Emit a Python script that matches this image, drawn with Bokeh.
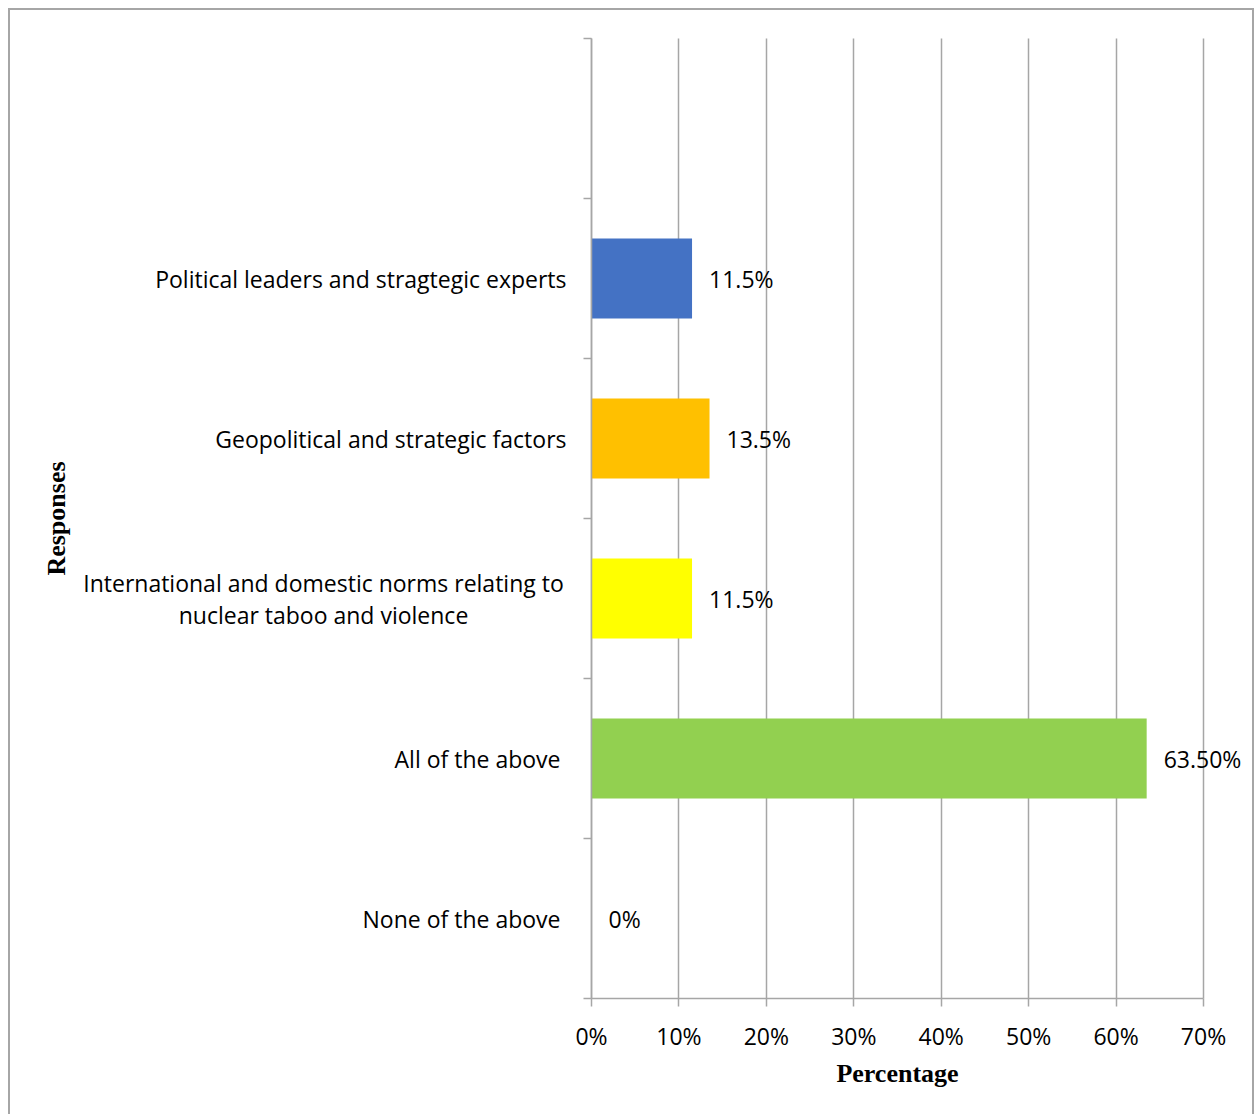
from bokeh.plotting import figure
from bokeh.models import ColumnDataSource, FixedTicker, Range1d
from bokeh.core.properties import value
from bokeh.embed import file_html
from bokeh.resources import INLINE

# ---- data ----
categories = [
    "None of the above ",
    "All of the above ",
    "International and domestic norms relating to\nnuclear taboo and violence",
    "Geopolitical and strategic factors",
    "Political leaders and stragtegic experts",
]
values = [0.0, 63.5, 11.5, 13.5, 11.5]
value_labels = ["0%", "63.50%", "11.5%", "13.5%", "11.5%"]
colors = ["#FFFFFF", "#92D050", "#FFFF00", "#FFC000", "#4472C4"]
x_ticks = [0, 10, 20, 30, 40, 50, 60, 70]
x_tick_labels = ["0%", "10%", "20%", "30%", "40%", "50%", "60%", "70%"]
n_slots = 6  # includes one empty slot at the top

FONT = "Open Sans"
FS = "23px"
GRAY = "#a6a6a6"

# ---- layout (pixels) ----
W, H = 1256, 1114
PL, PR, PT, PB = 591, 1203, 38, 998          # plot-area edges on the canvas
xmax = x_ticks[-1]
kx = (PR - PL) / xmax
ky = (PB - PT) / n_slots
x_range = Range1d(-PL / kx, (W - PL) / kx)
y_range = Range1d(-(H - PB) / ky, n_slots + PT / ky)

pos = [i + 0.5 for i in range(len(categories))]
zero = [0] * len(categories)
multi = ["\n" in c for c in categories]

src = ColumnDataSource(dict(
    y=pos, v=values, lab=value_labels, col=colors, cat=categories, zero=zero,
    al=["center" if m else "right" for m in multi],
    off=[-268 if m else -25 for m in multi],
))

p = figure(width=W, height=H, output_backend="svg", toolbar_location=None,
           x_range=x_range, y_range=y_range,
           min_border_left=0, min_border_right=0, min_border_top=0,
           min_border_bottom=0)
p.outline_line_color = None
p.background_fill_color = None
p.border_fill_color = None
g = "linear-gradient(#a6a6a6,#a6a6a6)"
p.styles = {
    "background": (f"{g} 8px 8px / 2px 1110px no-repeat, "
                   f"{g} 8px 8px / 1246px 2px no-repeat, "
                   f"{g} 1252px 8px / 2px 1110px no-repeat, white"),
}

p.hbar(y="y", left=0, right="v", height=0.5, fill_color="col", line_color=None,
       source=src)

p.text(x="v", y="y", text="lab", x_offset=17, text_align="left",
       text_baseline="middle", text_font=value(FONT), text_font_size=FS,
       text_color="black", source=src)

p.text(x="zero", y="y", text="cat", x_offset="off", text_align="al",
       text_baseline="middle", text_font=value(FONT), text_font_size=FS,
       text_color="black", text_line_height=1.0, source=src)

# x axis
xa = p.xaxis[0]
xa.fixed_location = 0
xa.bounds = (0, xmax)
xa.ticker = FixedTicker(ticks=x_ticks)
xa.major_label_overrides = {t: l for t, l in zip(x_ticks, x_tick_labels)}
xa.major_label_text_font = FONT
xa.major_label_text_font_size = FS
xa.major_label_text_color = "black"
xa.major_label_standoff = 13
xa.major_tick_in = 0
xa.major_tick_out = 8
xa.minor_tick_line_color = None
xa.axis_line_color = GRAY
xa.major_tick_line_color = GRAY
xa.axis_line_width = 1.5
xa.major_tick_line_width = 1.5
xa.axis_label = "Percentage"
xa.axis_label_text_font = "Liberation Serif"
xa.axis_label_text_font_style = "bold"
xa.axis_label_text_font_size = "26px"
xa.axis_label_text_color = "black"
xa.axis_label_standoff = 4

# y axis (ticks at slot boundaries, no tick labels)
ya = p.yaxis[0]
ya.fixed_location = 0
ya.bounds = (0, n_slots)
ya.ticker = FixedTicker(ticks=list(range(n_slots + 1)))
ya.major_label_overrides = {i: "" for i in range(n_slots + 1)}
ya.major_tick_in = 0
ya.major_tick_out = 8
ya.minor_tick_line_color = None
ya.axis_line_color = GRAY
ya.major_tick_line_color = GRAY
ya.axis_line_width = 1.5
ya.major_tick_line_width = 1.5
ya.axis_label = "Responses"
ya.axis_label_text_font = "Liberation Serif"
ya.axis_label_text_font_style = "bold"
ya.axis_label_text_font_size = "26px"
ya.axis_label_text_color = "black"
ya.axis_label_standoff = 513

p.xgrid.ticker = FixedTicker(ticks=x_ticks)
p.xgrid.bounds = (0, xmax)
p.xgrid.cross_bounds = (0, n_slots)
p.xgrid.grid_line_color = GRAY
p.xgrid.grid_line_width = 1.5
p.ygrid.grid_line_color = None

open("out.html", "w").write(file_html(p, INLINE))
